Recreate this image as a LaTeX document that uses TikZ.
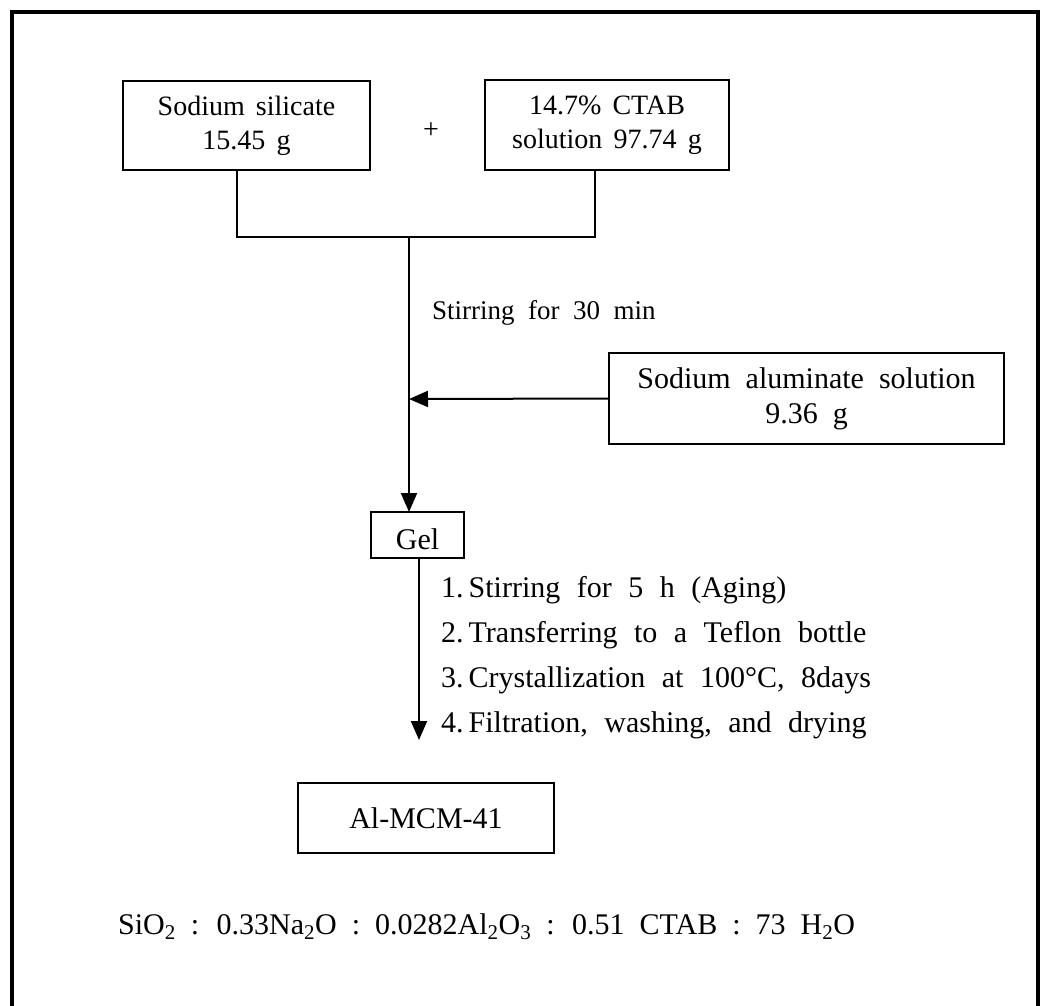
\documentclass[tikz,border=0pt]{standalone}
\usepackage{fontspec}
\setmainfont{Liberation Serif}
\usetikzlibrary{arrows.meta}
\newcommand{\diagfont}{\fontsize{30}{35}\selectfont\spaceskip=0.5em plus 0.1em minus 0.05em\relax}
\newcommand{\topfont}{\fontsize{28}{34}\selectfont\spaceskip=0.4em plus 0.1em minus 0.05em\relax}
\newcommand{\stirfont}{\fontsize{27}{32}\selectfont\spaceskip=0.5em plus 0.1em minus 0.05em\relax}
\newcommand{\stepfont}{\fontsize{30}{45}\selectfont\spaceskip=0.55em plus 0.1em minus 0.05em\relax}
\tikzset{
  box/.style={draw, line width=2.5pt, inner sep=0pt, align=center, font=\diagfont},
  conn/.style={line width=2pt},
  arr/.style={conn, -{Triangle[width=16pt,length=19pt]}},
  txt/.style={inner sep=0pt, font=\diagfont},
}
\begin{document}
\begin{tikzpicture}[x=1pt,y=-1pt]
\useasboundingbox (0,0) rectangle (1040,1005);
% outer frame (open at the bottom)
\draw[line width=3.5pt] (12,1010) -- (12,12) -- (1038,12) -- (1038,1010);

\node[box, font=\topfont, minimum width=247pt, minimum height=89pt] (sil) at (246.5,125.5) {Sodium silicate\\15.45 g};
\node[box, font=\topfont, minimum width=244pt, minimum height=90pt] (ctab) at (607,125) {14.7\% CTAB\\solution 97.74 g};
\node[txt, font=\topfont] (plus) at (431,131) {+};

\coordinate (j1) at ([xshift=-10pt]sil.south);
\coordinate (j2) at ([xshift=-12pt]ctab.south);
\coordinate (jl) at (j1 |- 0,237);
\coordinate (jr) at (j2 |- 0,237);
\coordinate (jm) at (409,237);

\node[box, minimum width=395pt, minimum height=91pt] (alum) at (806.5,398.5) {Sodium aluminate solution\\9.36 g};
\node[box, minimum width=93pt, minimum height=46pt, text height=28pt, text depth=0pt] (gel) at (417.5,535) {Gel};
\node[box, minimum width=256pt, minimum height=70pt] (mcm) at (426,818) {Al-MCM-41};

\coordinate (gtop) at (409,512);
\coordinate (mix) at (409,399);
\coordinate (gbot) at (419,558);
\coordinate (dtip) at (419,740);

\draw[conn] (j1) -- (jl) -- (jr) -- (j2);
\draw[arr] (jm) -- (gtop);
\draw[arr] (alum.west) -- (mix);
\draw[arr] (gbot) -- (dtip);

\node[txt, font=\stirfont, anchor=west] (stir) at (432,313) {Stirring for 30 min};
\node[inner sep=0pt, anchor=west, align=left, font=\stepfont] (steps) at (441,658) {1.\,Stirring for 5 h (Aging)\\2.\,Transferring to a Teflon bottle\\3.\,Crystallization at 100°C, 8days\\4.\,Filtration, washing, and drying};

\node[txt, anchor=west] (formula) at (118,927) {SiO\textsubscript{2} : 0.33Na\textsubscript{2}O : 0.0282Al\textsubscript{2}O\textsubscript{3} : 0.51 CTAB : 73 H\textsubscript{2}O};
\end{tikzpicture}
\end{document}
